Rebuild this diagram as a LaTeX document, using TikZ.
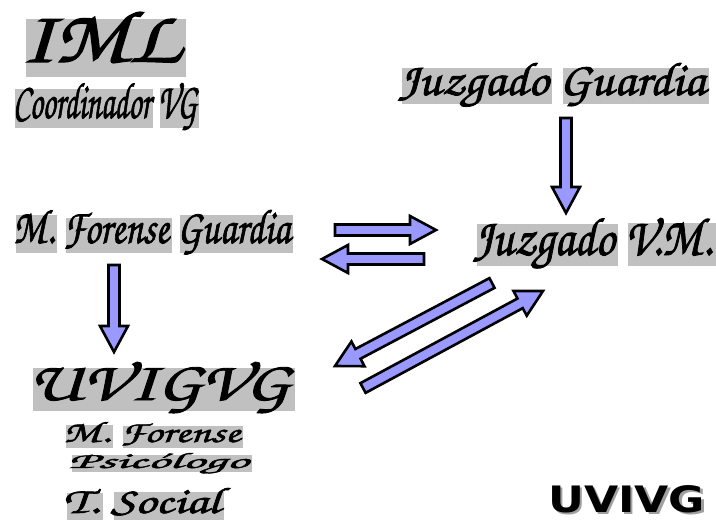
\documentclass[tikz,border=0pt]{standalone}
\usepackage{fontspec}
\usepackage{graphicx}
\usepackage{tikz}
\usetikzlibrary{calc}

\newfontfamily\cali{texgyrechorus-mediumitalic.otf}[FakeBold=1.6]
\newfontfamily\gruesa{DejaVu Sans}

\definecolor{gris}{HTML}{C0C0C0}
\definecolor{grisos}{HTML}{A0A0A0}
\definecolor{lila}{HTML}{9999FF}

% gray block behind each word
\newsavebox{\cajaP}
\newcommand{\sombra}[1]{\sbox{\cajaP}{#1}%
  \makebox[0pt][l]{\hspace{0.07em}\raisebox{-0.2em}{\color{gris}\rule{\wd\cajaP}{\dimexpr\ht\cajaP+0.1em\relax}}}\usebox{\cajaP}}

% text fitted to a width and a height
\newcommand{\rotulo}[3]{\resizebox{#1pt}{#2pt}{\fontsize{40}{48}\cali #3}}

% block arrow from #1 to #2
\newcommand{\flecha}[2]{%
  \coordinate (n) at ($(#2)!26pt!(#1)$);
  \draw[bloque] ($(#1)!5.5pt!90:(#2)$) -- ($(n)!5.5pt!-90:(#1)$) -- ($(n)!14pt!-90:(#1)$)
    -- (#2) -- ($(n)!14pt!90:(#1)$) -- ($(n)!5.5pt!90:(#1)$) -- ($(#1)!5.5pt!-90:(#2)$) -- cycle;}

\begin{document}
\begin{tikzpicture}[x=1pt,y=-1pt,
    texto/.style={anchor=base west,inner sep=0pt},
    bloque/.style={draw=black,fill=lila,line width=2.6pt}]
  \useasboundingbox (0,0) rectangle (716,522);

  \node[texto] (iml) at (20,62) {\rotulo{160}{50}{\sombra{IML}}};
  \node[texto] (coord) at (13,118) {\rotulo{184}{35}{\sombra{Coordinador} \sombra{VG}}};
  \node[texto] (jg) at (398,95) {\rotulo{307}{32}{\sombra{Juzgado} \sombra{Guardia}}};
  \node[texto] (mfg) at (13,243) {\rotulo{277}{33}{\sombra{M.} \sombra{Forense} \sombra{Guardia}}};
  \node[texto] (jvm) at (473,255) {\rotulo{239}{37}{\sombra{Juzgado} \sombra{V.M.}}};
  \node[texto] (uvigvg) at (28,400) {\rotulo{262}{38}{\sombra{UVIGVG}}};
  \node[texto] (mf) at (63,442) {\rotulo{177}{20}{\sombra{M.} \sombra{Forense}}};
  \node[texto] (psi) at (68,468) {\rotulo{180}{15}{\sombra{Psicólogo}}};
  \node[texto] (ts) at (63,513) {\rotulo{157}{25}{\sombra{T.} \sombra{Social}}};
  \node[texto] (uvivg) at (548,512) {\resizebox{157pt}{27pt}{\fontsize{40}{48}\gruesa\bfseries
      \makebox[0pt][l]{\hspace{0.06em}\raisebox{-0.06em}{\color{grisos}UVIVG}}UVIVG}};

  \coordinate (jg-s) at (566,118);
  \coordinate (jv-n) at (566,213);
  \coordinate (mf-e) at (335,230);
  \coordinate (jv-w) at (436,230);
  \coordinate (jv-w2) at (424,259);
  \coordinate (mf-e2) at (322,259);
  \coordinate (jv-sw) at (492,283);
  \coordinate (uv-ne) at (335,366);
  \coordinate (uv-e) at (363,388);
  \coordinate (jv-s) at (543,291);
  \coordinate (mf-s) at (114,265);
  \coordinate (uv-n) at (114,352);

  \flecha{jg-s}{jv-n}
  \flecha{mf-e}{jv-w}
  \flecha{jv-w2}{mf-e2}
  \flecha{jv-sw}{uv-ne}
  \flecha{uv-e}{jv-s}
  \flecha{mf-s}{uv-n}
\end{tikzpicture}
\end{document}
